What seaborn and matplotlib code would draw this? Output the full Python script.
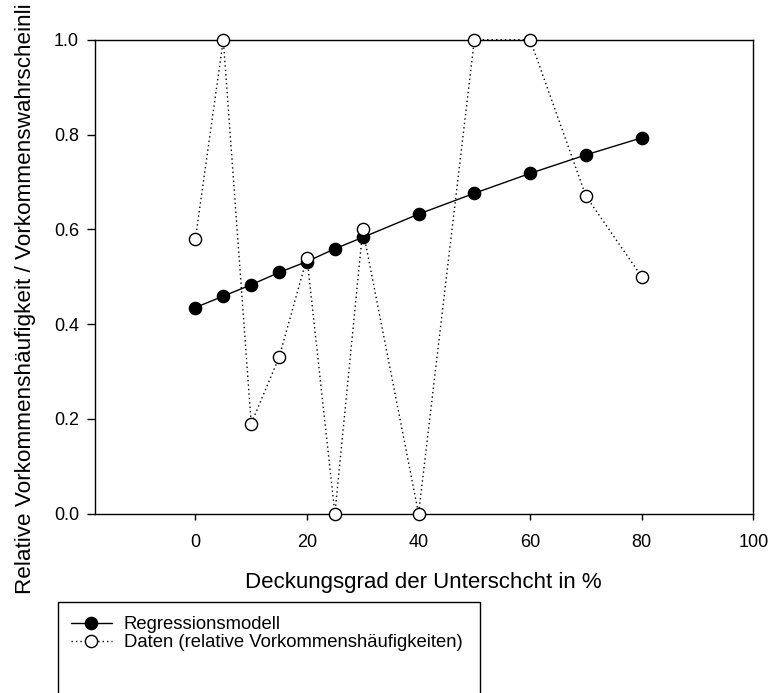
import matplotlib
matplotlib.use("Agg")
import matplotlib.pyplot as plt
import matplotlib.patches as mpatches
import seaborn as sns
import pandas as pd

# Deckungsgrad der Unterschicht (%)
cover = [0, 5, 10, 15, 20, 25, 30, 40, 50, 60, 70, 80]
# Vorhersage des Regressionsmodells
model_prob = [0.435, 0.459, 0.483, 0.509, 0.532, 0.559, 0.583, 0.632, 0.676, 0.718, 0.757, 0.793]
# Beobachtete relative Vorkommenshäufigkeiten
observed = [0.58, 1.0, 0.19, 0.33, 0.54, 0.0, 0.60, 0.0, 1.0, 1.0, 0.67, 0.50]

x_ticks = [0, 20, 40, 60, 80, 100]
y_ticks = [0.0, 0.2, 0.4, 0.6, 0.8, 1.0]

label_model = "Regressionsmodell"
label_data = "Daten (relative Vorkommenshäufigkeiten)"
x_title = "Deckungsgrad der Unterschcht in %"
y_title = "Relative Vorkommenshäufigkeit / Vorkommenswahrscheinli"

df = pd.DataFrame({"cover": cover, "model": model_prob, "observed": observed})

sns.set_theme(style="ticks")
plt.rcParams["font.family"] = ["Liberation Sans", "DejaVu Sans"]
plt.rcParams["text.color"] = "black"
plt.rcParams["axes.labelcolor"] = "black"

W, H = 772, 693
fig = plt.figure(figsize=(W / 100, H / 100), dpi=100)
ax = fig.add_axes([95 / W, 1 - 513.7 / H, (753.3 - 95) / W, (513.7 - 39.7) / H])

sns.lineplot(data=df, x="cover", y="model", ax=ax, color="black", lw=1.0,
             marker="o", markersize=8.8, markerfacecolor="black",
             markeredgecolor="black", markeredgewidth=1.0,
             label=label_model, clip_on=False, zorder=3)
sns.lineplot(data=df, x="cover", y="observed", ax=ax, color="black", lw=1.0,
             linestyle=(0, (1, 2.2)), marker="o", markersize=8.8,
             markerfacecolor="white", markeredgecolor="black",
             markeredgewidth=1.0, label=label_data, clip_on=False, zorder=4)

ax.set_xlim(-18, 100)
ax.set_ylim(0, 1.0)
ax.set_xticks(x_ticks)
ax.set_yticks(y_ticks)
ax.set_xticklabels([str(v) for v in x_ticks])
ax.set_yticklabels([f"{v:.1f}" for v in y_ticks])
ax.tick_params(axis="y", direction="out", length=5.6, width=1.0, pad=6,
               labelsize=13, colors="black")
ax.tick_params(axis="x", direction="out", length=4.5, width=1.0, pad=10,
               labelsize=13, colors="black")
for side in ["left", "right", "top", "bottom"]:
    ax.spines[side].set_visible(True)
    ax.spines[side].set_color("black")
    ax.spines[side].set_linewidth(1.0)
ax.set_xlabel("")
ax.set_ylabel("")

# Achsentitel
fig.text(423.5 / W, 1 - 588 / H, x_title, ha="center", va="baseline",
         fontsize=16)
fig.text(26 / W, 1 - 594 / H, y_title, ha="center", va="bottom",
         rotation=90, fontsize=16.2)

# Legende unterhalb des Diagramms in einem eigenen Rahmen
handles, labels = ax.get_legend_handles_labels()
if ax.get_legend() is not None:
    ax.get_legend().remove()
fig.legend(handles, labels, loc="upper left",
           bbox_to_anchor=(71 / W, 1 - 616 / H), bbox_transform=fig.transFigure,
           frameon=False, fontsize=13.3, borderaxespad=0, borderpad=0,
           handlelength=2.2, handletextpad=0.65, labelspacing=0.08)
box = mpatches.Rectangle((58 / W, -0.2), (480 - 58) / W, 0.2 + 1 - 602 / H,
                         transform=fig.transFigure, fill=False,
                         edgecolor="black", lw=1.0)
fig.add_artist(box)

fig.savefig("out.png", dpi=100)
